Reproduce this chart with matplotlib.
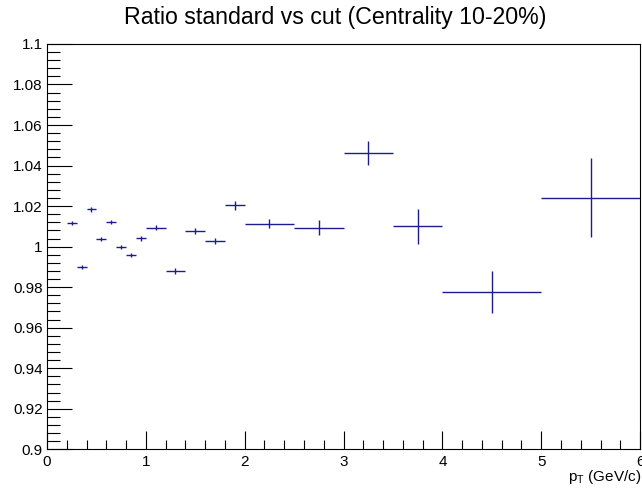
import matplotlib
matplotlib.use("Agg")
import matplotlib.pyplot as plt
from matplotlib.ticker import MultipleLocator, FixedFormatter, FixedLocator
import numpy as np

plt.rcParams['font.family'] = ['Liberation Sans', 'DejaVu Sans']
plt.rcParams['mathtext.fontset'] = 'custom'
plt.rcParams['mathtext.rm'] = 'Liberation Sans'
plt.rcParams['mathtext.it'] = 'Liberation Sans'

# bin edges (pT, GeV/c)
bin_lo = [0.2, 0.3, 0.4, 0.5, 0.6, 0.7, 0.8, 0.9, 1.0, 1.2, 1.4, 1.6, 1.8, 2.0, 2.5, 3.0, 3.5, 4.0, 5.0]
bin_hi = [0.3, 0.4, 0.5, 0.6, 0.7, 0.8, 0.9, 1.0, 1.2, 1.4, 1.6, 1.8, 2.0, 2.5, 3.0, 3.5, 4.0, 5.0, 6.0]
ratio = [1.0117, 0.9900, 1.0184, 1.0036, 1.0120, 1.0000, 0.9958, 1.0041, 1.0093, 0.9880,
         1.0075, 1.0028, 1.0205, 1.0114, 1.0093, 1.0462, 1.0100, 0.9776, 1.0241]
ratio_err = [0.0008, 0.0009, 0.0011, 0.0010, 0.0010, 0.0010, 0.0010, 0.0011, 0.0012, 0.0013,
             0.0015, 0.0017, 0.0022, 0.0024, 0.0037, 0.0059, 0.0087, 0.0104, 0.0195]

title = "Ratio standard vs cut (Centrality 10-20%)"
xlabel = r"$\mathregular{p_{T}}$ (GeV/c)"

lo = np.array(bin_lo); hi = np.array(bin_hi)
x = (lo + hi) / 2
xerr = (hi - lo) / 2

fig = plt.figure(figsize=(6.42, 4.94), dpi=100)
ax = fig.add_axes([0.0732, 0.0905, 0.9238, 0.8205])
color = '#1c1c8e'
ax.errorbar(x, ratio, xerr=xerr, yerr=ratio_err, fmt='none', ecolor=color, elinewidth=1.0, capsize=0)

ax.set_xlim(0, 6)
ax.set_ylim(0.9, 1.1)
ax.xaxis.set_major_locator(MultipleLocator(1))
ax.xaxis.set_minor_locator(MultipleLocator(0.2))
ax.yaxis.set_minor_locator(MultipleLocator(0.004))
yt = np.round(np.arange(0.9, 1.1001, 0.02), 2)
ax.yaxis.set_major_locator(FixedLocator(yt))
ax.yaxis.set_major_formatter(FixedFormatter([('%g' % v) for v in yt]))
ax.tick_params(axis='both', which='both', direction='in', top=False, right=False, labelsize=11, colors='black')
ax.tick_params(axis='y', which='major', length=18, width=0.8, pad=3)
ax.tick_params(axis='y', which='minor', length=9, width=0.8)
ax.tick_params(axis='x', which='major', length=13, width=0.8, pad=4)
ax.tick_params(axis='x', which='minor', length=6.5, width=0.8)
for s in ax.spines.values():
    s.set_linewidth(0.8)

fig.text(0.522, 0.951, title, ha='center', va='baseline', fontsize=16.7)
fig.text(0.999, 0.034, xlabel, ha='right', va='center', fontsize=11)

fig.savefig("out.png", dpi=100)
